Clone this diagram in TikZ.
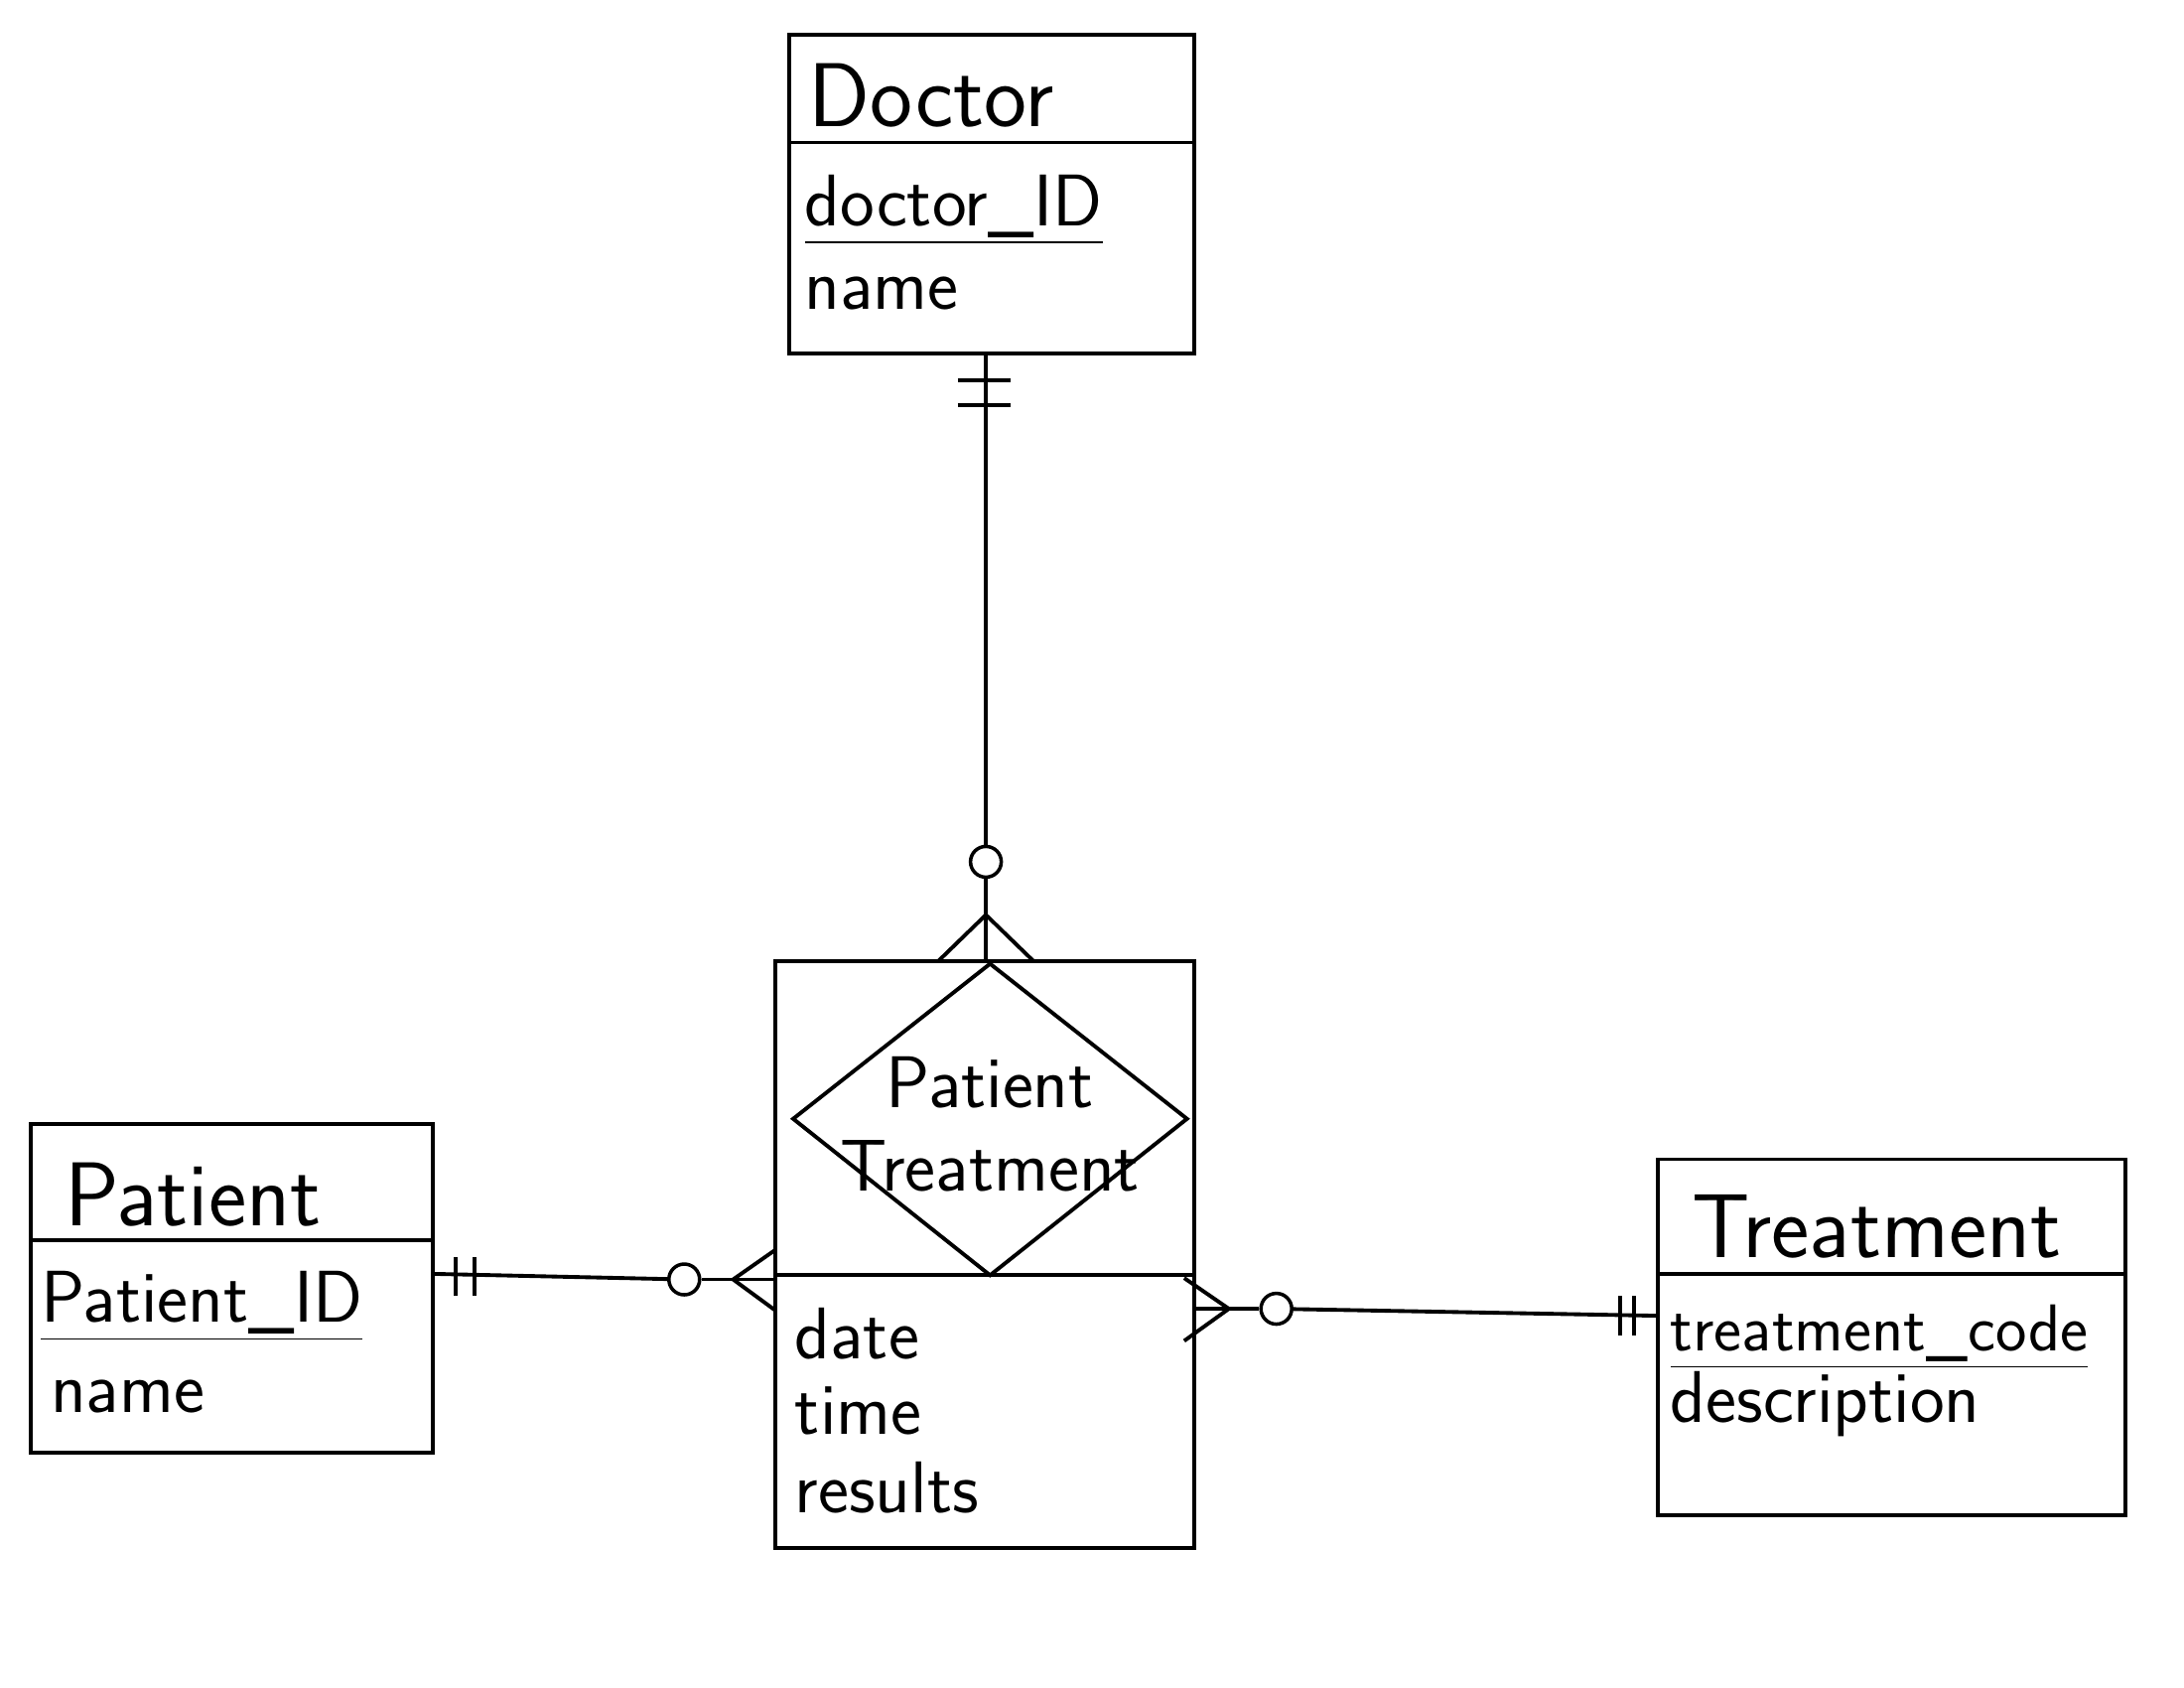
\documentclass[tikz,border=0pt]{standalone}
\usepackage{fontspec}
\setmainfont{DejaVu Sans}
\begin{document}
\begin{tikzpicture}[x=0.01407cm,y=-0.01407cm,line width=1.1pt,
  ttl/.style={font=\fontsize{26}{28}\selectfont\sffamily,anchor=west,inner sep=0},
  att/.style={font=\fontsize{21}{24}\selectfont\sffamily,anchor=west,inner sep=0},
  ring/.style={circle,draw,minimum size=0.31cm,inner sep=0,line width=1pt}]
\useasboundingbox (0,0) rectangle (1564,1208);
% Doctor
\draw (565,25) rectangle (855,253);
\draw (565,102) -- (855,102);
\node[ttl] (doc) at (578,68) {Doctor};
\node[att] (docid) at (575,150) {\underline{doctor\_ID}};
\node[att] (docn) at (575,210) {name};
% associative
\draw (555,688) rectangle (855,1108);
\draw (555,913) -- (855,913);
\draw (568,801) -- (709,690) -- (850,801) -- (709,913) -- cycle;
\node[att,anchor=center,align=center] (diat) at (709,805) {Patient\\Treatment};
\node[att] (d) at (568,955) {date};
\node[att] (t) at (568,1010) {time};
\node[att] (r) at (568,1065) {results};
% Patient
\draw (22,805) rectangle (310,1040);
\draw (22,888) -- (310,888);
\node[ttl] (pat) at (45,855) {Patient};
\node[att] (patid) at (28,935) {\underline{Patient\_ID}};
\node[att] (patn) at (35,1000) {name};
% Treatment
\draw (1187,830) rectangle (1522,1085);
\draw (1187,912) -- (1522,912);
\node[ttl] (tr) at (1210,878) {Treatment};
\node[att,font=\fontsize{19}{22}\selectfont\sffamily] (trc) at (1195,957) {\underline{treatment\_code}};
\node[att] (trd) at (1195,1005) {description};
% connectors
\node[ring] (c1) at (706,617) {};
\coordinate (a1) at (706,253);
\draw (a1) -- (c1);
\draw (686,272) -- (724,272); \draw (686,290) -- (724,290);
\draw (c1) -- (706,688);
\draw (672,688) -- (706,655) -- (740,688);
% left
\node[ring] (c2) at (490,916) {};
\coordinate (b1) at (310,912);
\draw (b1) -- (c2);
\draw (326,900) -- (326,928); \draw (340,900) -- (340,928);
\draw (c2) -- (555,916);
\draw (555,895) -- (525,916) -- (555,938);
% right
\node[ring] (c3) at (914,937) {};
\draw (855,937) -- (c3);
\draw (848,915) -- (880,937) -- (848,960);
\coordinate (e2) at (1187,942);
\draw (c3) -- (e2);
\draw (1160,928) -- (1160,956); \draw (1170,928) -- (1170,956);
\end{tikzpicture}
\end{document}
